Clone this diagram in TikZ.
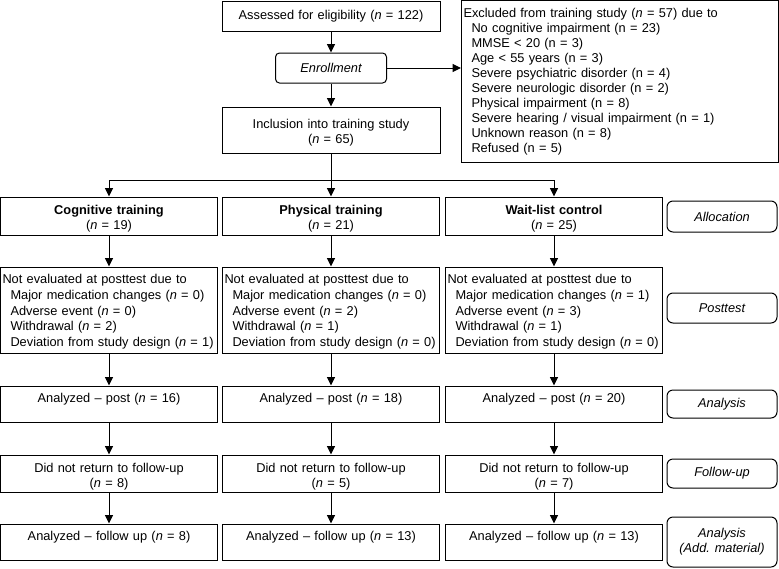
\documentclass[tikz,border=0pt]{standalone}
\usepackage{fontspec}
\setmainfont{Liberation Sans}
\usetikzlibrary{arrows.meta}
\begin{document}
\begin{tikzpicture}[x=1pt,y=-1pt,
  font=\fontsize{12.8}{15.3}\selectfont,
  every node/.style={inner xsep=2pt, inner ysep=0pt},
  box/.style={draw, line width=1pt, rectangle, minimum width=#1, text width=#1-4pt, align=center},
  box/.default=217pt,
  lbox/.style={draw, line width=1pt, rectangle, minimum width=#1, text width=#1-4pt, align=left},
  side/.style={draw, line width=1pt, rectangle, rounded corners=6pt, minimum width=110pt, align=center, font=\fontsize{12.8}{15.3}\selectfont\itshape},
  conn/.style={line width=1pt},
  arr/.style={line width=1pt, -{Triangle[length=8.5pt,width=8pt]}},
  uptext/.style={text depth=12.7pt},
  downtext/.style={text height=15pt}
]
\useasboundingbox (0,0) rectangle (779,568);
\newcommand{\nn}{\textit{n}}
\newcommand{\ind}{\hspace*{8pt}}

% top
\node[box=218pt, minimum height=30pt] (assess) at (331,16) {Assessed for eligibility (\nn{} = 122)};
\node[draw, line width=1pt, rounded corners=4pt, minimum width=111pt, minimum height=30pt, font=\fontsize{12.8}{15.3}\selectfont\itshape] (enroll) at (331,68) {Enrollment};
\node[box=218pt, minimum height=46pt, downtext] (incl) at (331,130) {Inclusion into training study\\(\nn{} = 65)};
\node[lbox=317pt, minimum height=162pt, font=\fontsize{12.8}{15}\selectfont, inner xsep=1.5pt] (excl) at (620,81.5) {Excluded from training study (\nn{} = 57) due to\\
\ind No cognitive impairment (n = 23)\\
\ind MMSE {\char"3C} 20 (n = 3)\\
\ind Age {\char"3C} 55 years (n = 3)\\
\ind Severe psychiatric disorder (n = 4)\\
\ind Severe neurologic disorder (n = 2)\\
\ind Physical impairment (n = 8)\\
\ind Severe hearing / visual impairment (n = 1)\\
\ind Unknown reason (n = 8)\\
\ind Refused (n = 5)};

% groups
\node[box, minimum height=38pt, downtext] (g1) at (109,216) {\textbf{Cognitive training}\\(\nn{} = 19)};
\node[box, minimum height=38pt, downtext] (g2) at (331,216) {\textbf{Physical training}\\(\nn{} = 21)};
\node[box, minimum height=38pt, downtext] (g3) at (554,216) {\textbf{Wait-list control}\\(\nn{} = 25)};

% posttest
\begin{scope}[every node/.append style={font=\fontsize{12.8}{15.7}\selectfont, text height=13pt}]
\node[lbox=217pt, minimum height=86pt] (p1) at (109,310) {Not evaluated at posttest due to\\
\ind Major medication changes (\nn{} = 0)\\
\ind Adverse event (\nn{} = 0)\\
\ind Withdrawal (\nn{} = 2)\\
\ind Deviation from study design (\nn{} = 1)};
\node[lbox=217pt, minimum height=86pt] (p2) at (331,310) {Not evaluated at posttest due to\\
\ind Major medication changes (\nn{} = 0)\\
\ind Adverse event (\nn{} = 2)\\
\ind Withdrawal (\nn{} = 1)\\
\ind Deviation from study design (\nn{} = 0)};
\node[lbox=217pt, minimum height=86pt] (p3) at (554,310) {Not evaluated at posttest due to\\
\ind Major medication changes (\nn{} = 1)\\
\ind Adverse event (\nn{} = 3)\\
\ind Withdrawal (\nn{} = 1)\\
\ind Deviation from study design (\nn{} = 0)};
\end{scope}

% analyzed post
\node[box, minimum height=36pt, uptext] (a1) at (109,404) {Analyzed -- post (\nn{} = 16)};
\node[box, minimum height=36pt, uptext] (a2) at (331,404) {Analyzed -- post (\nn{} = 18)};
\node[box, minimum height=36pt, uptext] (a3) at (554,404) {Analyzed -- post (\nn{} = 20)};

% follow-up
\node[box, minimum height=37pt, downtext] (f1) at (109,473.5) {Did not return to follow-up\\(\nn{} = 8)};
\node[box, minimum height=37pt, downtext] (f2) at (331,473.5) {Did not return to follow-up\\(\nn{} = 5)};
\node[box, minimum height=37pt, downtext] (f3) at (554,473.5) {Did not return to follow-up\\(\nn{} = 7)};

% analyzed follow up
\node[box, minimum height=36pt, uptext] (b1) at (109,542) {Analyzed -- follow up (\nn{} = 8)};
\node[box, minimum height=36pt, uptext] (b2) at (331,542) {Analyzed -- follow up (\nn{} = 13)};
\node[box, minimum height=36pt, uptext] (b3) at (554,542) {Analyzed -- follow up (\nn{} = 13)};

% side labels
\node[side, minimum height=31pt] (sAlloc) at (722,216.5) {Allocation};
\node[side, minimum height=30pt] (sPost) at (722,308) {Posttest};
\node[side, minimum height=28pt] (sAna) at (722,404) {Analysis};
\node[side, minimum height=29pt] (sFol) at (722,473.5) {Follow-up};
\node[side, minimum height=50pt] (sAdd) at (722,542) {Analysis\\(Add. material)};

% connectors
\coordinate (split) at (331,180);
\draw[arr] (assess) -- (enroll);
\draw[arr] (enroll) -- (incl);
\draw[arr] (enroll.east) -- (enroll.east -| excl.west);
\draw[conn] (split -| g1.north) -- (split -| g3.north);
\draw[arr] (incl) -- (g2);
\draw[arr] (split -| g1.north) -- (g1.north);
\draw[arr] (split -| g3.north) -- (g3.north);
\foreach \c in {1,2,3}{
  \draw[arr] (g\c) -- (p\c);
  \draw[arr] (p\c) -- (a\c);
  \draw[arr] (a\c) -- (f\c);
  \draw[arr] (f\c) -- (b\c);
}
\end{tikzpicture}
\end{document}
